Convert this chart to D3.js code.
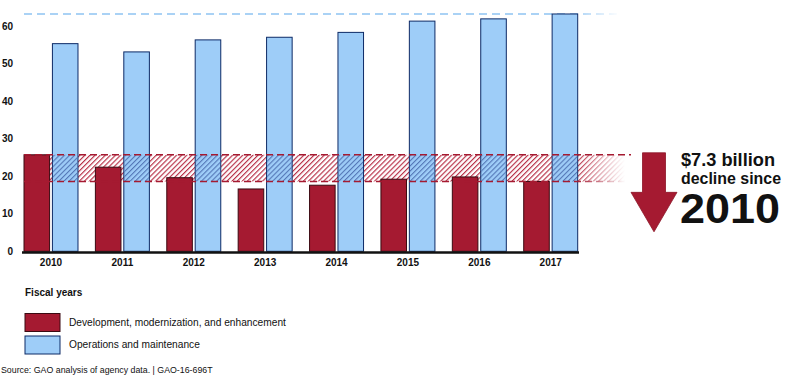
<!DOCTYPE html>
<html><head><meta charset="utf-8">
<script src="https://cdn.jsdelivr.net/npm/d3@7"></script>
<style>body{margin:0;background:#fff}svg{display:block}text{font-family:Arial,"Liberation Sans",sans-serif}</style>
</head><body>
<svg id="c" width="800" height="380"></svg>
<script>
const years = ["2010","2011","2012","2013","2014","2015","2016","2017"];
const dme = [25.7, 22.4, 19.6, 16.6, 17.6, 19.2, 19.8, 18.6];
const om  = [55.3, 53.1, 56.3, 57.0, 58.3, 61.3, 61.9, 63.2];
const yTicks = [0,10,20,30,40,50,60];
const seriesNames = ["Development, modernization, and enhancement","Operations and maintenance"];

const RED = "#a51a31", BLUE = "#9ecdf8";
const svg = d3.select("#c");
const defs = svg.append("defs");

const x0 = d3.scaleBand().domain(years).range([24, 577.7]).paddingInner(0.2437).paddingOuter(0).align(0);
const x1 = d3.scaleBand().domain(["dme","om"]).range([0, x0.bandwidth()]).paddingInner(0.1);
const y = d3.scaleLinear().domain([0,60]).range([251.3, 26]);

// patterns
function hatch(id, color, w){
  const p = defs.append("pattern").attr("id", id).attr("patternUnits","userSpaceOnUse")
    .attr("width", 3.6).attr("height", 3.6).attr("patternTransform","rotate(45)");
  p.append("line").attr("x1",0.6).attr("y1",0).attr("x2",0.6).attr("y2",3.6)
    .attr("stroke", color).attr("stroke-width", w);
}
hatch("hr", "#b3223b", 1.1);
hatch("hb", "#4a6cae", 1.0);
const fade = defs.append("linearGradient").attr("id","fade").attr("gradientUnits","userSpaceOnUse")
  .attr("x1", 575).attr("x2", 625).attr("y1",0).attr("y2",0);
fade.append("stop").attr("offset",0).attr("stop-color","#fff");
fade.append("stop").attr("offset",1).attr("stop-color","#000");
const mask = defs.append("mask").attr("id","fm").attr("maskUnits","userSpaceOnUse");
mask.append("rect").attr("x",0).attr("y",0).attr("width",800).attr("height",380).attr("fill","url(#fade)");
const fadeB = defs.append("linearGradient").attr("id","fadeB").attr("gradientUnits","userSpaceOnUse")
  .attr("x1", 575).attr("x2", 620).attr("y1",0).attr("y2",0);
fadeB.append("stop").attr("offset",0).attr("stop-color","#fff");
fadeB.append("stop").attr("offset",1).attr("stop-color","#000");
const maskB = defs.append("mask").attr("id","fmb").attr("maskUnits","userSpaceOnUse");
maskB.append("rect").attr("x",0).attr("y",0).attr("width",800).attr("height",380).attr("fill","url(#fadeB)");

const bandTop = y(dme[0]), bandBot = y(dme[dme.length-1]);
const bandX0 = 24, bandX1 = 635;

// top dashed blue line
svg.append("line").attr("x1", 24).attr("x2", 625).attr("y1", y(d3.max(om))).attr("y2", y(d3.max(om)))
  .attr("stroke", "#8fc3f2").attr("stroke-width", 1.5).attr("stroke-dasharray","8,5").attr("mask","url(#fmb)");

// red hatched band
svg.append("rect").attr("x", bandX0).attr("y", bandTop).attr("width", bandX1-bandX0).attr("height", bandBot-bandTop)
  .attr("fill","url(#hr)").attr("mask","url(#fm)");

// blue bars
svg.append("g").selectAll("rect").data(years).join("rect")
  .attr("x", (d)=>x0(d)+x1("om")).attr("width", x1.bandwidth())
  .attr("y", (d,i)=>y(om[i])).attr("height", (d,i)=>y(0)-y(om[i]))
  .attr("fill", BLUE).attr("stroke","#0d2a66").attr("stroke-width",1);
// blue hatch inside band over blue bars
svg.append("g").selectAll("rect").data(years).join("rect")
  .attr("x", (d)=>x0(d)+x1("om")+0.5).attr("width", x1.bandwidth()-1)
  .attr("y", bandTop).attr("height", bandBot-bandTop)
  .attr("fill","url(#hb)");

// red bars
svg.append("g").selectAll("rect").data(years).join("rect")
  .attr("x", (d)=>x0(d)+x1("dme")).attr("width", x1.bandwidth())
  .attr("y", (d,i)=>y(dme[i])).attr("height", (d,i)=>y(0)-y(dme[i]))
  .attr("fill", RED).attr("stroke","#3b0a12").attr("stroke-width",1);

// band dashed lines
svg.append("line").attr("x1", bandX0).attr("x2", 631).attr("y1", bandTop).attr("y2", bandTop)
  .attr("stroke", RED).attr("stroke-width", 1.6).attr("stroke-dasharray","7,4");
svg.append("line").attr("x1", bandX0).attr("x2", 628).attr("y1", bandBot).attr("y2", bandBot)
  .attr("stroke", RED).attr("stroke-width", 1.4).attr("stroke-dasharray","7,4").attr("mask","url(#fm)");

// baseline
svg.append("line").attr("x1", 22).attr("x2", 579).attr("y1", y(0)+1.2).attr("y2", y(0)+1.2)
  .attr("stroke","#111").attr("stroke-width",2.6);

// y axis labels
const yAxis = d3.axisLeft(y).tickValues(yTicks).tickSize(0).tickPadding(0);
const ya = svg.append("g").attr("transform","translate(13,0)").call(yAxis);
ya.select(".domain").remove();
ya.selectAll("text").attr("font-size",10).attr("font-weight","bold").attr("fill","#111")
  .style("font-family","Arial,'Liberation Sans',sans-serif");

// x axis labels
const xAxis = d3.axisBottom(x0).tickSize(0).tickPadding(0);
const xa = svg.append("g").attr("transform", `translate(0,${y(0)+8})`).call(xAxis);
xa.select(".domain").remove();
xa.selectAll("text").attr("font-size",10).attr("font-weight","bold").attr("fill","#111")
  .style("font-family","Arial,'Liberation Sans',sans-serif");

// arrow
const ax = 654, sh = 11.5, hw = 23;
const aTop = bandTop - 2, aHead = y(15.7), aTip = y(5.2);
svg.append("path").attr("d", `M${ax-sh},${aTop}L${ax+sh},${aTop}L${ax+sh},${aHead}L${ax+hw},${aHead}L${ax},${aTip}L${ax-hw},${aHead}L${ax-sh},${aHead}Z`)
  .attr("fill", RED).attr("stroke","#8c1426").attr("stroke-width",0.8);

// annotation text
svg.append("text").attr("x",681).attr("y",166).attr("font-size",18.2).attr("font-weight","bold").attr("fill","#111").text("$7.3 billion");
svg.append("text").attr("x",681).attr("y",183.5).attr("font-size",15.6).attr("font-weight","bold").attr("fill","#111")
  .attr("textLength",100).attr("lengthAdjust","spacingAndGlyphs").text("decline since");
svg.append("text").attr("x",680).attr("y",223).attr("font-size",42).attr("font-weight","bold").attr("fill","#111")
  .attr("textLength",100).attr("lengthAdjust","spacingAndGlyphs").text("2010");

// fiscal years
svg.append("text").attr("x",25).attr("y",296).attr("font-size",10).attr("font-weight","bold").attr("fill","#111").text("Fiscal years");

// legend
const lg = svg.append("g");
const colors = [RED, BLUE], strokes = ["#3b0a12","#0d2a66"];
seriesNames.forEach((n,i)=>{
  lg.append("rect").attr("x",25).attr("y", 313.5 + i*22.5).attr("width",35).attr("height",18)
    .attr("fill", colors[i]).attr("stroke", strokes[i]).attr("stroke-width",1);
  lg.append("text").attr("x",69).attr("y", 326 + i*22).attr("font-size",10.2).attr("fill","#111").text(n);
});

svg.append("text").attr("x",1).attr("y",373).attr("font-size",8.8).attr("fill","#111")
  .text("Source: GAO analysis of agency data.  |  GAO-16-696T");
</script>
</body></html>
